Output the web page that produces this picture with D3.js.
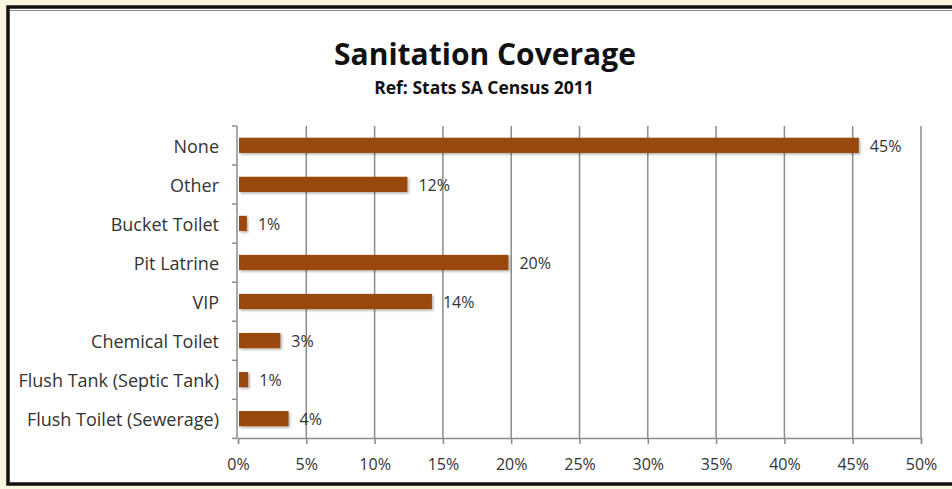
<!DOCTYPE html>
<html>
<head>
<meta charset="utf-8">
<script src="https://cdn.jsdelivr.net/npm/d3@7"></script>
<style>
  html, body { margin: 0; padding: 0; background: #f8f6de; }
  svg { display: block; }
</style>
</head>
<body>
<svg id="chart" width="952" height="489"></svg>
<script>
// categories top to bottom, as shown
var categories = ['None', 'Other', 'Bucket Toilet', 'Pit Latrine', 'VIP',
  'Chemical Toilet', 'Flush Tank (Septic Tank)', 'Flush Toilet (Sewerage)'];
var shares = [0.4545, 0.124, 0.0065, 0.198, 0.142, 0.031, 0.0075, 0.037];
var tickValues = [0, 0.05, 0.10, 0.15, 0.20, 0.25, 0.30, 0.35, 0.40, 0.45, 0.50];

var svg = d3.select('#chart');
var font = '"Open Sans", sans-serif';

// frame
svg.append('rect').attr('x', 8).attr('y', 7).attr('width', 960).attr('height', 477)
  .attr('fill', '#fff').attr('stroke', '#111').attr('stroke-width', 3.5);
svg.append('line').attr('x1', 10).attr('x2', 952).attr('y1', 10.5).attr('y2', 10.5)
  .attr('stroke', '#888').attr('stroke-width', 1);

var defs = svg.append('defs');
var f = defs.append('filter').attr('id', 'shadow')
  .attr('x', '-10%').attr('y', '-30%').attr('width', '130%').attr('height', '180%');
f.append('feDropShadow').attr('dx', 1.5).attr('dy', 1.5).attr('stdDeviation', 1.2)
  .attr('flood-color', '#000').attr('flood-opacity', 0.3);

var x = d3.scaleLinear().domain([0, 0.5]).range([238, 921]);
var y = d3.scaleBand().domain(categories).range([126, 438]).paddingInner(0.61).paddingOuter(0.3);

// title
svg.append('text').attr('x', 485).attr('y', 65).attr('text-anchor', 'middle')
  .attr('font-family', font).attr('font-weight', 'bold').attr('font-size', 30)
  .attr('fill', '#111').text('Sanitation Coverage');
svg.append('text').attr('x', 484).attr('y', 94).attr('text-anchor', 'middle')
  .attr('font-family', font).attr('font-weight', 'bold').attr('font-size', 17.5)
  .attr('fill', '#111').text('Ref: Stats SA Census 2011');

// vertical grid lines
svg.append('g').selectAll('line').data(tickValues.slice(1)).enter()
  .append('line')
  .attr('x1', function(d) { return x(d); }).attr('x2', function(d) { return x(d); })
  .attr('y1', 126).attr('y2', 438)
  .attr('stroke', '#8c8c8c').attr('stroke-width', 1.5);

// x axis
var xAxis = svg.append('g').attr('transform', 'translate(0,438)')
  .call(d3.axisBottom(x).tickValues(tickValues).tickSize(6).tickPadding(15)
    .tickFormat(d3.format('.0%')));
xAxis.select('.domain').attr('stroke', '#8c8c8c').attr('stroke-width', 1.5);
xAxis.selectAll('.tick line').attr('stroke', '#8c8c8c').attr('stroke-width', 1.5);
xAxis.selectAll('text').attr('font-family', font).attr('font-size', 16).attr('fill', '#333');

// y axis: line with ticks between categories
var yAxisG = svg.append('g');
yAxisG.append('line').attr('x1', 237).attr('x2', 237).attr('y1', 126).attr('y2', 438)
  .attr('stroke', '#8c8c8c').attr('stroke-width', 1.5);
var bounds = d3.range(categories.length + 1).map(function(i) { return 126 + i * y.step(); });
yAxisG.selectAll('line.tk').data(bounds).enter().append('line').attr('class', 'tk')
  .attr('x1', 232).attr('x2', 237)
  .attr('y1', function(d) { return d; }).attr('y2', function(d) { return d; })
  .attr('stroke', '#8c8c8c').attr('stroke-width', 1.5);
yAxisG.selectAll('text').data(categories).enter().append('text')
  .attr('x', 219).attr('y', function(d) { return y(d) + y.bandwidth() / 2 + 1; })
  .attr('dy', '0.35em').attr('text-anchor', 'end')
  .attr('font-family', font).attr('font-size', 18).attr('fill', '#333')
  .text(function(d) { return d; });

// bars
var data = categories.map(function(c, i) { return { cat: c, v: shares[i] }; });
svg.append('g').selectAll('rect').data(data).enter().append('rect')
  .attr('x', x(0) + 1).attr('y', function(d) { return y(d.cat); })
  .attr('width', function(d) { return x(d.v) - x(0) - 1; })
  .attr('height', y.bandwidth())
  .attr('fill', '#994a0c').attr('filter', 'url(#shadow)');

// value labels
svg.append('g').selectAll('text').data(data).enter().append('text')
  .attr('x', function(d) { return x(d.v) + 11; })
  .attr('y', function(d) { return y(d.cat) + y.bandwidth() / 2 + 1; })
  .attr('dy', '0.35em')
  .attr('font-family', font).attr('font-size', 16).attr('fill', '#333')
  .text(function(d) { return Math.round(d.v * 100) + '%'; });
</script>
</body>
</html>
